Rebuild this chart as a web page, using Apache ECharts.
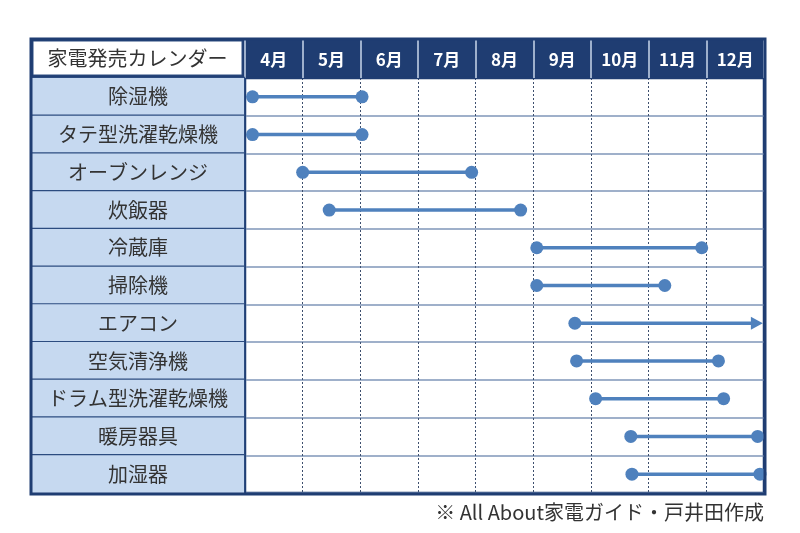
<!DOCTYPE html>
<html><head><meta charset="utf-8">
<script src="https://cdn.jsdelivr.net/npm/echarts@6/dist/echarts.min.js"></script>
<style>html,body{margin:0;padding:0;background:#fff}#c{width:800px;height:533px}</style>
</head><body><div id="c"></div>
<script>
const categories = ['除湿機','タテ型洗濯乾燥機','オーブンレンジ','炊飯器','冷蔵庫','掃除機','エアコン','空気清浄機','ドラム型洗濯乾燥機','暖房器具','加湿器'];
const months = ['4月','5月','6月','7月','8月','9月','10月','11月','12月'];
const startMonth = [4.13, 4.13, 5.00, 5.46, 9.06, 9.06, 9.72, 9.75, 10.08, 10.69, 10.71];
const endMonth   = [6.03, 6.03, 7.93, 8.78, 11.92, 11.28, 12.98, 12.21, 12.30, 12.89, 12.93];
const endKind    = ['dot','dot','dot','dot','dot','dot','arrow','dot','dot','dot','dot'];
const titleText = '家電発売カレンダー';
const noteText = '※ All About家電ガイド・戸井田作成';

const DARK = '#1f3d72', LABEL_BG = '#c6d9f0', MARK = '#4f81bd';
const FONT = '"Noto Sans CJK JP", "Noto Sans", sans-serif';
const L = 245, T = 78, R = 764, B = 493;
const rowH = (B - T) / categories.length;

const chart = echarts.init(document.getElementById('c'));
const data = categories.map((c, i) => [i, startMonth[i], endMonth[i], endKind[i] === 'arrow' ? 1 : 0]);

chart.setOption({
  animation: false,
  grid: { left: L, top: T, right: 800 - R, bottom: 533 - B, show: true, borderColor: DARK, borderWidth: 2.5, backgroundColor: '#fff' },
  xAxis: [
    { type: 'value', min: 4, max: 13, interval: 1, position: 'bottom',
      axisLine: { show: false }, axisTick: { show: false }, axisLabel: { show: false },
      splitLine: { show: true, showMinLine: false, showMaxLine: false, lineStyle: { color: '#3d4f6e', type: [2, 2], width: 1 } } },
    { type: 'category', data: months, position: 'top', boundaryGap: true,
      axisLine: { show: true, lineStyle: { color: DARK, width: 2 } },
      axisTick: { show: true, length: T - 40, lineStyle: { color: '#c9d6ea', width: 1.5 } },
      axisLabel: { margin: 10, color: '#fff', fontWeight: 'bold', fontSize: 17, fontFamily: FONT, interval: 0 },
      splitLine: { show: false } }
  ],
  yAxis: { type: 'category', data: categories, inverse: true, boundaryGap: true,
    axisLine: { show: true, lineStyle: { color: DARK, width: 2 } },
    axisTick: { show: false },
    splitLine: { show: true, lineStyle: { color: '#7f96b8', width: 1.5 } },
    axisLabel: { interval: 0, align: 'center', margin: (L - 33) / 2 + 1, width: L - 33, height: rowH, lineHeight: rowH,
      padding: 0, backgroundColor: LABEL_BG, borderColor: '#2c4c80', borderWidth: 1.2,
      color: '#333', fontSize: 20, fontFamily: FONT, overflow: 'none' } },
  series: [{
    type: 'custom', xAxisIndex: 0, yAxisIndex: 0, data: data,
    encode: { x: [1, 2], y: 0 },
    renderItem: function (params, api) {
      const row = api.value(0), s = api.value(1), e = api.value(2), arrow = api.value(3);
      const p0 = api.coord([s, row]), p1 = api.coord([e, row]);
      const st = { fill: MARK };
      const children = [
        { type: 'line', shape: { x1: p0[0], y1: p0[1], x2: arrow ? p1[0] - 8 : p1[0], y2: p1[1] }, style: { stroke: MARK, lineWidth: 3.5 } },
        { type: 'circle', shape: { cx: p0[0], cy: p0[1], r: 6.5 }, style: st }
      ];
      if (arrow) {
        children.push({ type: 'polygon', shape: { points: [[p1[0], p1[1]], [p1[0] - 12, p1[1] - 6.5], [p1[0] - 12, p1[1] + 6.5]] }, style: st });
      } else {
        children.push({ type: 'circle', shape: { cx: p1[0], cy: p1[1], r: 6.5 }, style: st });
      }
      return { type: 'group', children: children };
    }
  }],
  graphic: [
    { type: 'rect', z: -1, shape: { x: 30, y: 38, width: R - 30, height: T - 38 }, style: { fill: DARK } },
    { type: 'rect', z: 5, shape: { x: 33, y: 41, width: L - 36, height: T - 44 }, style: { fill: '#fff', stroke: '#2c4c80', lineWidth: 1 } },
    { type: 'text', z: 6, x: (33 + L - 3) / 2, y: (41 + T - 3) / 2, style: { text: titleText, fill: '#333', font: '20px ' + FONT, textAlign: 'center', textVerticalAlign: 'middle' } },
    { type: 'rect', z: 50, shape: { x: 31, y: 39, width: R - 30, height: B - 38 }, style: { fill: 'none', stroke: DARK, lineWidth: 3 } },
    { type: 'text', z: 6, x: R, y: 512, style: { text: noteText, fill: '#333', font: '20px ' + FONT, textAlign: 'right', textVerticalAlign: 'middle' } }
  ]
});
</script></body></html>
